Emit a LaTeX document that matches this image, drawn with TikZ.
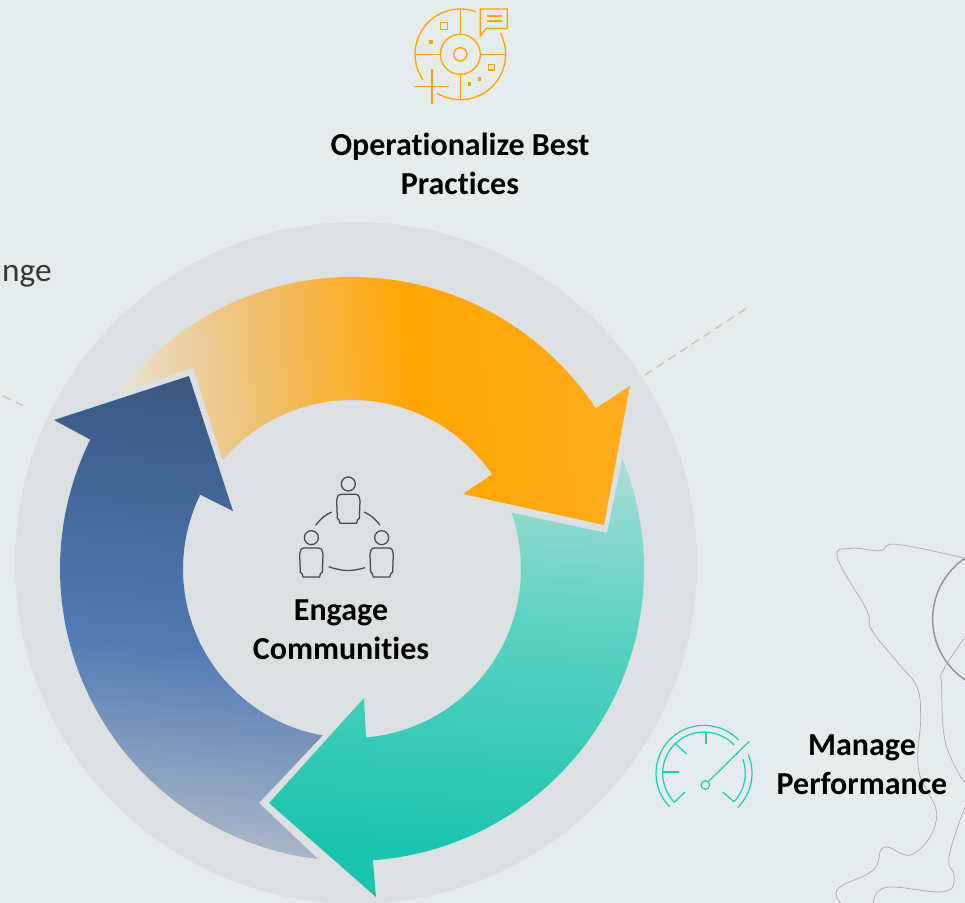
\documentclass[tikz,border=0pt]{standalone}
\usepackage{fontspec}
\setmainfont[Ligatures=NoCommon]{Carlito}
\usetikzlibrary{calc}
\definecolor{pagebg}{RGB}{230,236,236}
\definecolor{ringbg}{RGB}{220,224,225}
\definecolor{amber}{RGB}{255,165,0}
\definecolor{amberA}{RGB}{232,223,206}
\definecolor{amberB}{RGB}{240,190,108}
\definecolor{amberC}{RGB}{255,172,30}
\definecolor{tealA}{RGB}{165,220,212}
\definecolor{tealB}{RGB}{95,210,194}
\definecolor{tealC}{RGB}{26,196,174}
\definecolor{tealicon}{RGB}{30,205,180}
\definecolor{navyA}{RGB}{58,88,130}
\definecolor{navyB}{RGB}{80,122,180}
\definecolor{navyC}{RGB}{172,183,200}
\definecolor{peopleink}{RGB}{72,74,78}
\definecolor{mapink}{RGB}{172,176,177}
\pgfdeclarehorizontalshading{amberramp}{100bp}{
  color(0bp)=(amberA);color(25bp)=(amberA);color(39bp)=(amberB);
  color(54bp)=(amber);color(75bp)=(amberC);color(100bp)=(amberC)}
\pgfdeclareverticalshading{tealramp}{100bp}{
  color(0bp)=(tealC);color(30bp)=(tealC);color(58bp)=(tealB);
  color(75bp)=(tealA);color(100bp)=(tealA)}
\pgfdeclareverticalshading{navyramp}{100bp}{
  color(0bp)=(navyC);color(25bp)=(navyC);color(47bp)=(navyB);
  color(75bp)=(navyA);color(100bp)=(navyA)}
\tikzset{
  steplabel/.style={font=\bfseries\fontsize{24}{29}\selectfont,align=center,text=black,inner sep=0pt},
  guide/.style={draw=black!22,line width=1pt,dash pattern=on 6.5pt off 4pt},
  maptrace/.style={draw=mapink,line width=0.55pt},
}

\begin{document}
\begin{tikzpicture}[x=0.75pt,y=-0.75pt]
  \useasboundingbox (0,0) rectangle (965,903);
  \clip (0,0) rectangle (965,903);
  \fill[pagebg] (0,0) rectangle (965,903);

  % map traces on the right
  \begin{scope}[shift={(770,530)},x=0.25pt,y=-0.25pt]
    \draw[draw=mapink!85!black,line width=1.1pt] (708,267) circle[radius=220];
    \draw[maptrace] plot[smooth,tension=0.7] coordinates {(585,85) (380,43) (330,62) (240,55) (203,85)
      (290,240) (305,300) (385,400) (440,470) (452,560) (446,720) (500,860) (430,972)
      (342,952) (310,1020) (205,1075) (212,1119)};
    \draw[maptrace] plot[smooth,tension=0.7] coordinates {(585,322) (520,420) (515,470) (527,640) (585,760)};
    \draw[maptrace] plot[smooth,tension=0.7] coordinates {(585,830) (537,980) (553,1040) (520,1085) (350,1072) (310,1119)};
  \end{scope}

  \fill[ringbg] (356,563) circle[radius=341];
  \coordinate (hub) at (352,569);

  % dashed guides
  \coordinate (guideA) at (645,375);
  \coordinate (guideB) at (747,308);
  \coordinate (guideC) at (3,396);
  \coordinate (guideD) at (23,405.5);
  \draw[guide] (guideA) -- (guideB);
  \draw[guide] (guideC) -- (guideD);

  % the three arrows
  \shade[shading=amberramp,shading angle=4]
    ($(hub)+(-142.7:292)$) arc[start angle=-142.7,end angle=-33.4,radius=292]
    -- (630,386) -- (604,525) -- (463,494) -- (494,473)
    -- ($(hub)+(-33.8:169)$) arc[start angle=-33.8,end angle=-140,radius=169]
    -- (193,368) -- cycle;
  \shade[shading=tealramp,shading angle=-4]
    ($(hub)+(-22.2:292)$) arc[start angle=-22.2,end angle=85.9,radius=292]
    -- (376,897) -- (269,803) -- (364,698) -- (366,736)
    -- ($(hub)+(85:169)$) arc[start angle=85,end angle=-19.5,radius=169]
    -- (607,533) -- cycle;
  \shade[shading=navyramp,shading angle=-6]
    ($(hub)+(-263.3:292)$) arc[start angle=-263.3,end angle=-153.7,radius=292]
    -- (54,420) -- (189,376) -- (233,511) -- (199,494)
    -- ($(hub)+(-154.2:169)$) arc[start angle=-154.2,end angle=-260,radius=169]
    -- (259,803) -- cycle;

  % target icon
  \begin{scope}[shift={(390,0)},x=0.25pt,y=-0.25pt,draw=amber,line width=1pt]
    \coordinate (dial) at (211,163);
    \draw ($(dial)+(-70:136)$) arc[start angle=-70,end angle=-214.7,radius=136];
    \draw ($(dial)+(-239:136)$) arc[start angle=-239,end angle=-388,radius=136];
    \draw (dial) circle[radius=60];
    \draw (dial) circle[radius=20];
    \draw (211,28) -- (211,103);
    \draw (211,223) -- (211,300);
    \draw (75,163) -- (151,163);
    \draw (271,163) -- (347,163);
    \draw (126,207) -- (126,312);
    \draw (72,260) -- (178,260);
    \draw (271,27) -- (352,27) -- (352,85) -- (289,85) -- (271,108) -- cycle;
    \draw (290,48) -- (335,48);
    \draw (290,63) -- (335,63);
    \draw (151,68) rectangle (172,89);
    \draw (296,194) rectangle (313,210);
    \foreach \dx/\dy in {123/126,269/237,239/252}
    {
      \fill[amber] (\dx-5,\dy-5) rectangle (\dx+5,\dy+5);
    }
  \end{scope}

  % gauge icon
  \begin{scope}[shift={(640,710)},x=0.25pt,y=-0.25pt,draw=tealicon,line width=0.9pt]
    \coordinate (gauge) at (192,190);
    \draw ($(gauge)+(-224.4:144)$) arc[start angle=-224.4,end angle=-43.9,radius=144];
    \draw ($(gauge)+(-23.2:144)$) arc[start angle=-23.2,end angle=45.3,radius=144];
    \draw ($(gauge)+(-224:124)$) arc[start angle=-224,end angle=-43.4,radius=124];
    \draw ($(gauge)+(-20:124)$) arc[start angle=-20,end angle=43.4,radius=124];
    \draw (198,65) -- (198,103);
    \draw (105,100) -- (140,132);
    \draw (68,186) -- (116,186);
    \draw (103,277) -- (135,246);
    \draw (282,275) -- (248,246);
    \draw (328,94) -- (206,214);
    \draw (196,225) circle[radius=13];
  \end{scope}

  % three people
  \begin{scope}[shift={(270,460)},x=0.25pt,y=-0.25pt,draw=peopleink,line width=0.95pt,line join=round]
    \foreach \px/\py in {235/72,124/233,335/233}
    {
      \draw (\px,\py) circle[radius=21];
      \draw (\px-22,\py+31) -- (\px+22,\py+31) to[out=0,in=90] (\px+35,\py+50)
        -- (\px+33,\py+103) -- (\px+27,\py+108) -- (\px+25,\py+118)
        -- (\px-25,\py+118) -- (\px-28,\py+108) -- (\px-33,\py+103) -- (\px-35,\py+50)
        to[out=90,in=180] (\px-22,\py+31);
    }
    \draw (137,196) to[bend left=14] (185,156);
    \draw (282,156) to[bend left=14] (330,196);
    \draw (176,320) to[bend right=18] (285,323);
  \end{scope}

  % labels
  \begin{scope}[every node/.style={steplabel}]
    \node (bestpractices) at (460,164) {Operationalize Best\\Practices};
    \node (communities) at (341,630) {Engage\\Communities};
    \node (performance) at (862,765) {Manage\\Performance};
  \end{scope}
  \node[anchor=base east,inner sep=0pt,text=black!78,font=\fontsize{25}{28}\selectfont] (change) at (52,281) {nge};
\end{tikzpicture}
\end{document}
